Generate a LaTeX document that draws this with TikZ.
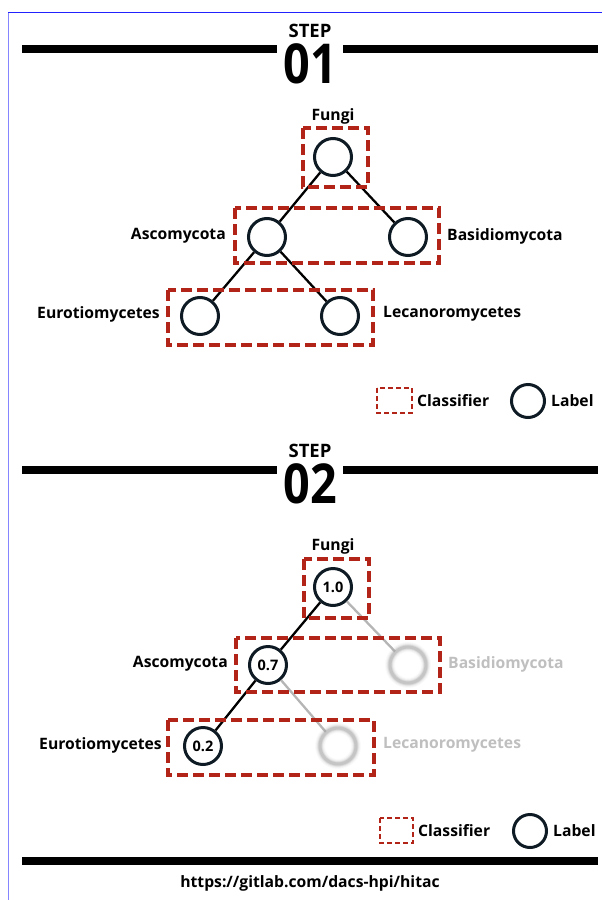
\documentclass[tikz,border=0pt]{standalone}
\usepackage{fontspec}
\setmainfont{Open Sans}
\usepackage{graphicx}
\definecolor{cls}{HTML}{B22418}
\definecolor{lab}{HTML}{0E1B24}
\definecolor{faint}{HTML}{B5B5B5}
\definecolor{frame}{HTML}{2222FF}
\begin{document}
\begin{tikzpicture}[x=1pt,y=-1pt,
  lbl/.style={circle, draw=lab, line width=3pt, minimum size=37pt, inner sep=0pt, fill=white,
              font=\bfseries\fontsize{14.5}{16}\selectfont},
  ghost/.style={circle, minimum size=37pt, inner sep=0pt},
  clsbox/.style={draw=cls, line width=3.2pt, dash pattern=on 11pt off 5pt},
  legbox/.style={draw=cls, line width=2pt, dash pattern=on 5pt off 3pt},
  leglbl/.style={circle, draw=lab, line width=3pt, minimum size=33pt, inner sep=0pt},
  txt/.style={font=\bfseries\fontsize{15.7}{18}\selectfont, inner sep=0pt},
  steptxt/.style={font=\bfseries\fontsize{18.5}{20}\selectfont, inner sep=0pt},
  numtxt/.style={font=\bfseries\fontsize{55}{55}\selectfont, inner sep=0pt},
  bar/.style={line width=8pt},
  edgeline/.style={line width=2.3pt, draw=black},
  fadeedge/.style={line width=2.3pt, draw=faint},
]
\useasboundingbox (0,0) rectangle (602,900);
% frame
\draw[frame!55, line width=1.5pt] (8.5,900) -- (8.5,12);
\draw[frame, line width=1pt] (8,12) -- (602,12);

% ---------- STEP 01 ----------
\node[steptxt] (s1) at (310,31) {STEP};
\node[numtxt] (n1) at (310,64) {\scalebox{0.85}[1]{01}};
\coordinate (b1a) at (22,49); \coordinate (b1b) at (277,49);
\coordinate (b1c) at (343,49); \coordinate (b1d) at (598,49);
\draw[bar] (b1a) -- (b1b);
\draw[bar] (b1c) -- (b1d);

\node[lbl] (fungi) at (333,157) {};
\node[lbl] (asco) at (267,237) {};
\node[lbl] (basi) at (408,237) {};
\node[lbl] (euro) at (200,316) {};
\node[lbl] (leca) at (340,316) {};
\draw[edgeline] (fungi) -- (asco);
\draw[edgeline] (fungi) -- (basi);
\draw[edgeline] (asco) -- (euro);
\draw[edgeline] (asco) -- (leca);
\draw[clsbox] (303,128) rectangle (368,187);
\draw[clsbox] (235,208) rectangle (439,263);
\draw[clsbox] (168,290) rectangle (373,345);
\node[txt] (tfungi) at (333,116) {Fungi};
\node[txt, anchor=east] (tasco) at (226,236) {Ascomycota};
\node[txt, anchor=west] (tbasi) at (447,236) {Basidiomycota};
\node[txt, anchor=east] (teuro) at (160,314) {Eurotiomycetes};
\node[txt, anchor=west] (tleca) at (383,314) {Lecanoromycetes};

% legend 1
\draw[legbox] (377,388) rectangle (412,413);
\node[txt, anchor=west] (lc1) at (417,401) {Classifier};
\node[leglbl] (ll1) at (528,401) {};
\node[txt, anchor=west] (lt1) at (551,401) {Label};

% ---------- STEP 02 ----------
\node[steptxt] (s2) at (310,451) {STEP};
\node[numtxt] (n2) at (310,484) {\scalebox{0.85}[1]{02}};
\coordinate (b2a) at (22,470); \coordinate (b2b) at (277,470);
\coordinate (b2c) at (343,470); \coordinate (b2d) at (598,470);
\draw[bar] (b2a) -- (b2b);
\draw[bar] (b2c) -- (b2d);

\node[lbl] (fungiB) at (333,587) {1.0};
\node[lbl] (ascoB) at (268,665) {0.7};
\node[ghost] (basiB) at (408,665) {};
\node[lbl] (euroB) at (203,746) {0.2};
\node[ghost] (lecaB) at (338,746) {};
\draw[edgeline] (fungiB) -- (ascoB);
\draw[edgeline] (ascoB) -- (euroB);
\draw[fadeedge] (fungiB) -- (basiB);
\draw[fadeedge] (ascoB) -- (lecaB);
\foreach \w/\o in {10/0.06,8/0.10,6/0.16,4.5/0.25,3/0.4}{
  \draw[faint!80!gray, line width=\w pt, opacity=\o] (basiB.center) circle[radius=18pt];
  \draw[faint!80!gray, line width=\w pt, opacity=\o] (lecaB.center) circle[radius=18pt];
}
\draw[clsbox] (304,559) rectangle (369,618);
\draw[clsbox] (236,638) rectangle (440,692);
\draw[clsbox] (168,720) rectangle (374,775);
\node[txt] (tfungiB) at (333,546) {Fungi};
\node[txt, anchor=east] (tascoB) at (228,664) {Ascomycota};
\node[txt, anchor=east] (teuroB) at (162,745) {Eurotiomycetes};
\node[txt, anchor=west, text=black!25] (gb) at (448,664) {Basidiomycota};
\node[txt, anchor=west, text=black!25] (gl) at (383,745) {Lecanoromycetes};

% legend 2
\draw[legbox] (380,818) rectangle (413,843);
\node[txt, anchor=west] (lc2) at (418,831) {Classifier};
\node[leglbl] (ll2) at (530,831) {};
\node[txt, anchor=west] (lt2) at (553,831) {Label};

% footer
\coordinate (f1) at (22,861); \coordinate (f2) at (598,861);
\draw[bar] (f1) -- (f2);
\node[txt] (url) at (310,883) {https://gitlab.com/dacs-hpi/hitac};
\end{tikzpicture}
\end{document}
